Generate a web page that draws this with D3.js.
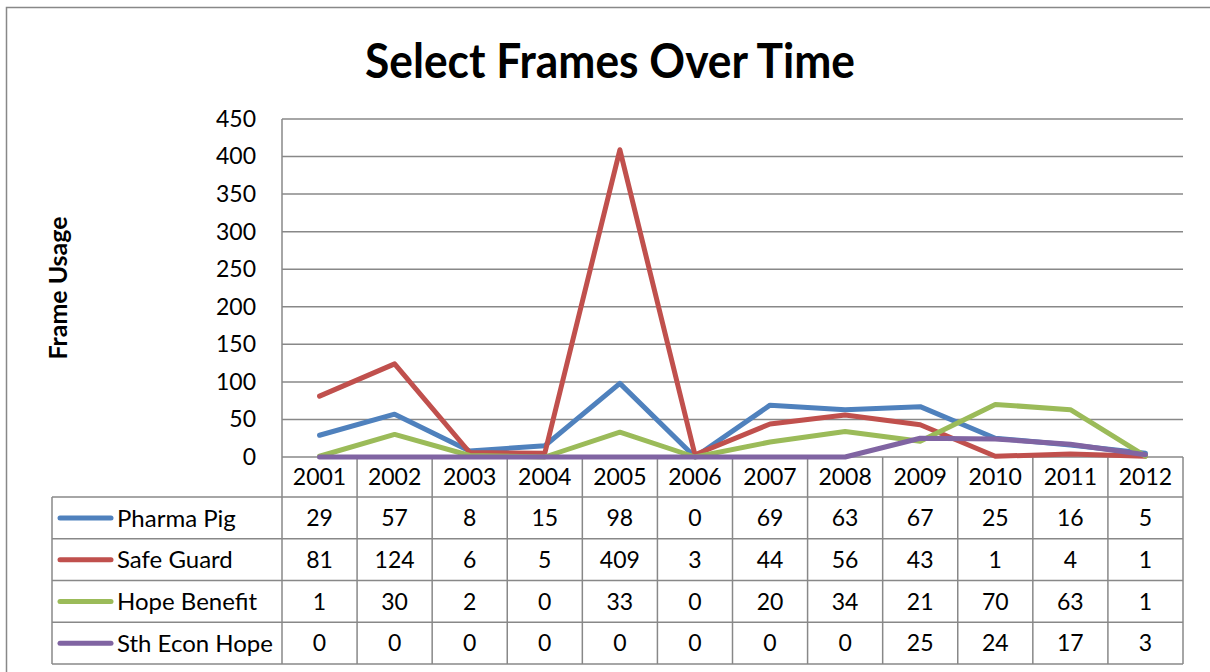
<!DOCTYPE html>
<html><head><meta charset="utf-8">
<script src="https://cdn.jsdelivr.net/npm/d3@7/dist/d3.min.js"></script>
<style>html,body{margin:0;padding:0;background:#fff;}svg{display:block;}</style>
</head><body>
<svg id="chart" width="1210" height="672"></svg>
<script>
const years = ["2001","2002","2003","2004","2005","2006","2007","2008","2009","2010","2011","2012"];
const seriesNames = ["Pharma Pig","Safe Guard","Hope Benefit","Sth Econ Hope"];
const pharmaPig   = [29,57,8,15,98,0,69,63,67,25,16,5];
const safeGuard   = [81,124,6,5,409,3,44,56,43,1,4,1];
const hopeBenefit = [1,30,2,0,33,0,20,34,21,70,63,1];
const sthEconHope = [0,0,0,0,0,0,0,0,25,24,17,3];
const yTicks = [0,50,100,150,200,250,300,350,400,450];
const colors = ["#4F81BD","#C0504D","#9BBB59","#8064A2"];
const title = "Select Frames Over Time";
const yTitle = "Frame Usage";

const series = [pharmaPig, safeGuard, hopeBenefit, sthEconHope];
const svg = d3.select("#chart");
const font = "Lato, 'Open Sans', sans-serif";
const grid = "#888888";

const L = 282, R = 1183, T = 119, B = 457;
const legL = 52;
const headerH = 40, rowH = 41.75;

// outer chart border
svg.append("rect").attr("x",6.5).attr("y",7.5).attr("width",1220).attr("height",700)
  .attr("fill","none").attr("stroke",grid).attr("stroke-width",1.5);

const x = d3.scaleBand().domain(years).range([L,R]);
const y = d3.scaleLinear().domain([0,450]).range([B,T]);

// gridlines
svg.append("g").selectAll("line").data(yTicks.filter(d=>d>0)).join("line")
  .attr("x1",L).attr("x2",R).attr("y1",d=>y(d)).attr("y2",d=>y(d))
  .attr("stroke",grid).attr("stroke-width",1.5);

// y axis
const yAxis = d3.axisLeft(y).tickValues(yTicks).tickSize(0).tickPadding(26);
const gy = svg.append("g").attr("transform",`translate(${L},0)`).call(yAxis);
gy.select(".domain").remove();
gy.selectAll("text").attr("font-family",font).attr("font-size",23).attr("fill","#000");

// table grid
const tg = svg.append("g").attr("stroke",grid).attr("stroke-width",1.5).attr("fill","none");
const rowsTop = B + headerH, tableBottom = rowsTop + rowH*4;
tg.append("line").attr("x1",L).attr("x2",R).attr("y1",B).attr("y2",B);
for (let i=0;i<=4;i++){
  tg.append("line").attr("x1",legL).attr("x2",R).attr("y1",rowsTop+rowH*i).attr("y2",rowsTop+rowH*i);
}
tg.append("line").attr("x1",L).attr("x2",L).attr("y1",T).attr("y2",tableBottom);
tg.append("line").attr("x1",legL).attr("x2",legL).attr("y1",rowsTop).attr("y2",tableBottom);
years.forEach(yr=>{
  const xe = x(yr)+x.bandwidth();
  tg.append("line").attr("x1",xe).attr("x2",xe).attr("y1",B).attr("y2",tableBottom);
});

// year header labels
svg.append("g").selectAll("text").data(years).join("text")
  .attr("x",d=>x(d)+x.bandwidth()/2).attr("y",B+headerH/2).attr("dy","0.36em")
  .attr("text-anchor","middle").attr("font-family",font).attr("font-size",23).text(d=>d);

// table rows
series.forEach((vals,i)=>{
  const cy = rowsTop + rowH*i + rowH/2;
  const g = svg.append("g");
  g.append("line").attr("x1",60).attr("x2",111).attr("y1",cy).attr("y2",cy)
    .attr("stroke",colors[i]).attr("stroke-width",5).attr("stroke-linecap","round");
  g.append("text").attr("x",117).attr("y",cy).attr("dy","0.36em")
    .attr("font-family",font).attr("font-size",24).text(seriesNames[i]);
  g.selectAll("text.v").data(vals).join("text").attr("class","v")
    .attr("x",(d,j)=>x(years[j])+x.bandwidth()/2).attr("y",cy).attr("dy","0.36em")
    .attr("text-anchor","middle").attr("font-family",font).attr("font-size",23).text(d=>d);
});

// lines
const line = d3.line().x((d,j)=>x(years[j])+x.bandwidth()/2).y(d=>y(d));
series.forEach((vals,i)=>{
  svg.append("path").datum(vals).attr("d",line).attr("fill","none")
    .attr("stroke",colors[i]).attr("stroke-width",5)
    .attr("stroke-linejoin","round").attr("stroke-linecap","round");
});

// title
svg.append("text").attr("x",610).attr("y",78).attr("text-anchor","middle")
  .attr("font-family",font).attr("font-weight","bold").attr("font-size",48)
  .attr("textLength",490).attr("lengthAdjust","spacingAndGlyphs").text(title);

// y axis title
svg.append("text").attr("transform",`translate(67,${(T+B)/2}) rotate(-90)`)
  .attr("text-anchor","middle").attr("font-family",font).attr("font-weight","bold")
  .attr("font-size",24).attr("textLength",143).attr("lengthAdjust","spacingAndGlyphs").text(yTitle);
</script>
</body></html>
